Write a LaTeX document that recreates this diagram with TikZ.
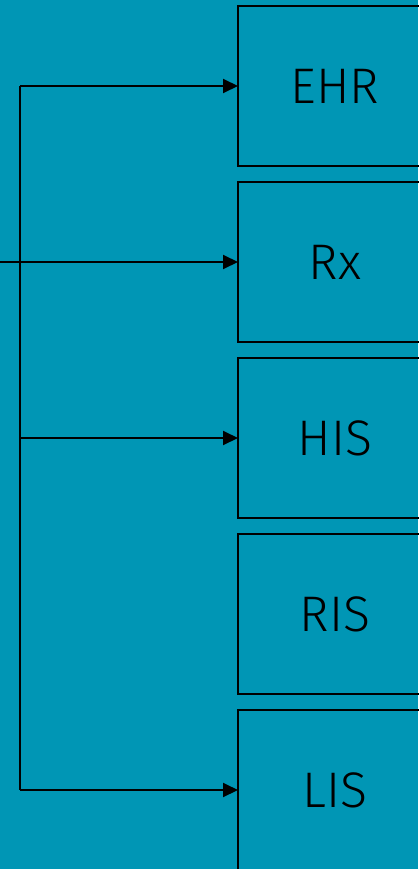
\documentclass[tikz,border=0pt]{standalone}
\usepackage{fontspec}
\setmainfont{Fira Sans}[UprightFont=* Light]
\usetikzlibrary{arrows.meta}
\definecolor{bg}{HTML}{0096B5}
\begin{document}
\begin{tikzpicture}[x=1pt,y=-1pt,
  sysbox/.style={draw=black,line width=2pt,minimum width=194pt,minimum height=160pt,inner sep=0pt,outer sep=0pt,font=\fontsize{50}{60}\selectfont,text=black},
  conn/.style={draw=black,line width=2pt,-{Triangle[length=15pt,width=14pt]}},
  trunk/.style={draw=black,line width=2pt}]
\fill[bg] (0,0) rectangle (418,869);
\useasboundingbox (0,0) rectangle (418,869);
\node[sysbox] (ehr) at (335,86) {EHR};
\node[sysbox] (rx) at (335,262) {Rx};
\node[sysbox] (his) at (335,438) {HIS};
\node[sysbox] (ris) at (335,614) {RIS};
\node[sysbox] (lis) at (335,790) {LIS};
\coordinate (in) at (0,262);
\coordinate (j1) at (20,86);
\coordinate (j3) at (20,438);
\coordinate (j5) at (20,790);
\draw[trunk] (j1) -- (j5);
\draw[conn] (j1) -- (ehr.west);
\draw[conn] (in) -- (rx.west);
\draw[conn] (j3) -- (his.west);
\draw[conn] (j5) -- (lis.west);
\end{tikzpicture}
\end{document}
